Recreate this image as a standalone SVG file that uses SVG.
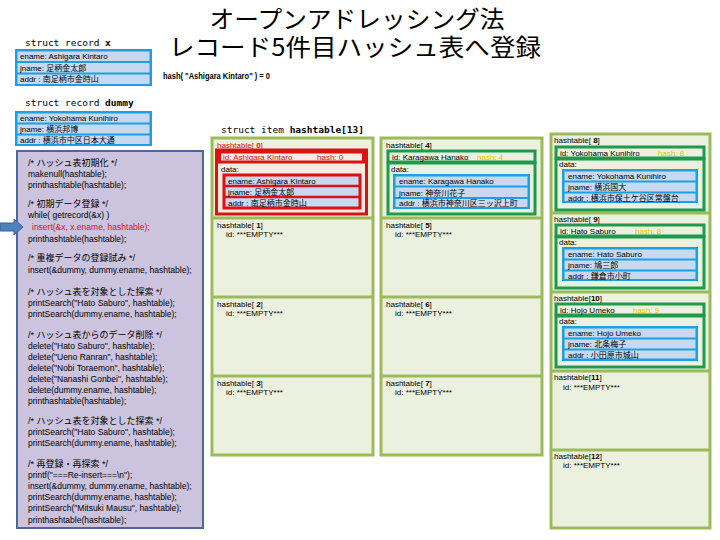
<svg xmlns="http://www.w3.org/2000/svg" width="720" height="540" viewBox="0 0 720 540">
<defs>
<style>
text{font-family:"Liberation Sans","Noto Sans CJK JP",sans-serif;fill:#000}
.title{font-family:"Noto Sans CJK JP",sans-serif;font-size:24px}
.mono{font-family:"DejaVu Sans Mono","Noto Sans CJK JP",monospace;font-size:9.5px}
.sm{font-size:8px}
.code{font-size:8.5px}
.cm{font-size:9px}
.b{font-weight:bold}
.red{fill:#dd1111}
.yel{fill:#f2bf00}
.col{fill:#ebf1de;stroke:#9bbb59;stroke-width:3}
.gbox{fill:#ebf1de;stroke:#1e9a4c;stroke-width:3}
.rbox{fill:#f4ece2;stroke:#dd1111;stroke-width:3}
.bbox{fill:#1ba1e2}
.row{fill:#c6d9f0}
</style>
</defs>
<rect width="720" height="540" fill="#ffffff"/>

<g id="title">
<text class="title" x="357" y="28" text-anchor="middle" textLength="295" lengthAdjust="spacingAndGlyphs">オープンアドレッシング法</text>
<text class="title" x="355" y="56" text-anchor="middle" textLength="372" lengthAdjust="spacingAndGlyphs">レコード5件目ハッシュ表へ登録</text>
<text class="b" x="163" y="79" font-size="9" textLength="107" lengthAdjust="spacingAndGlyphs">hash( "Ashigara Kintaro" ) = 0</text>
</g>

<g id="record-x">
<text class="mono" x="25" y="46">struct record <tspan class="b">x</tspan></text>
<rect class="bbox" x="15" y="49" width="137" height="37"/>
<rect class="row" x="17.5" y="51.5" width="132" height="9.5"/>
<rect class="row" x="17.5" y="63" width="132" height="9.5"/>
<rect class="row" x="17.5" y="74.5" width="132" height="9.5"/>
<text class="sm" x="20" y="59">ename: Ashigara Kintaro</text>
<text class="sm" x="20" y="70.5">jname: 足柄金太郎</text>
<text class="sm" x="20" y="82">addr : 南足柄市金時山</text>
</g>

<g id="record-dummy">
<text class="mono" x="25" y="106">struct record <tspan class="b">dummy</tspan></text>
<rect class="bbox" x="15" y="111" width="137" height="35"/>
<rect class="row" x="17.5" y="113.5" width="132" height="9"/>
<rect class="row" x="17.5" y="124.5" width="132" height="9"/>
<rect class="row" x="17.5" y="135.5" width="132" height="8.5"/>
<text class="sm" x="20" y="121">ename: Yokohama Kunihiro</text>
<text class="sm" x="20" y="132">jname: 横浜邦博</text>
<text class="sm" x="20" y="143">addr : 横浜市中区日本大通</text>
</g>

<g id="code">
<rect x="17" y="151" width="186" height="377" fill="#ccc3df" stroke="#4e6896" stroke-width="2"/>
<text class="cm" x="28" y="166">/* ハッシュ表初期化 */</text>
<text class="code" x="28" y="177">makenull(hashtable);</text>
<text class="code" x="28" y="188">printhashtable(hashtable);</text>
<text class="cm" x="28" y="207">/* 初期データ登録 */</text>
<text class="code" x="28" y="218">while( getrecord(&amp;x) )</text>
<text class="code red" x="32" y="230">insert(&amp;x, x.ename, hashtable);</text>
<text class="code" x="28" y="242">printhashtable(hashtable);</text>
<text class="cm" x="28" y="261">/* 重複データの登録試み */</text>
<text class="code" x="28" y="273">insert(&amp;dummy, dummy.ename, hashtable);</text>
<text class="cm" x="28" y="295">/* ハッシュ表を対象とした探索 */</text>
<text class="code" x="28" y="306">printSearch("Hato Saburo", hashtable);</text>
<text class="code" x="28" y="317">printSearch(dummy.ename, hashtable);</text>
<text class="cm" x="28" y="338">/* ハッシュ表からのデータ削除 */</text>
<text class="code" x="28" y="349">delete("Hato Saburo", hashtable);</text>
<text class="code" x="28" y="360">delete("Ueno Ranran", hashtable);</text>
<text class="code" x="28" y="371">delete("Nobi Toraemon", hashtable);</text>
<text class="code" x="28" y="382">delete("Nanashi Gonbei", hashtable);</text>
<text class="code" x="28" y="393">delete(dummy.ename, hashtable);</text>
<text class="code" x="28" y="404">printhashtable(hashtable);</text>
<text class="cm" x="28" y="424">/* ハッシュ表を対象とした探索 */</text>
<text class="code" x="28" y="435">printSearch("Hato Saburo", hashtable);</text>
<text class="code" x="28" y="446">printSearch(dummy.ename, hashtable);</text>
<text class="cm" x="28" y="467">/* 再登録・再探索 */</text>
<text class="code" x="28" y="478">printf("===Re-insert===\n");</text>
<text class="code" x="28" y="489">insert(&amp;dummy, dummy.ename, hashtable);</text>
<text class="code" x="28" y="500">printSearch(dummy.ename, hashtable);</text>
<text class="code" x="28" y="511">printSearch("Mitsuki Mausu", hashtable);</text>
<text class="code" x="28" y="523">printhashtable(hashtable);</text>
</g>

<g id="connectors">
<polygon points="0,223 14,223 14,219 23,227 14,235 14,231 0,231" fill="#4f81bd" stroke="#3a6398" stroke-width="1"/>
</g>

<g id="hashtable-title">
<text class="mono" x="221" y="133">struct item <tspan class="b">hashtable[13]</tspan></text>
</g>

<g id="columns">
<rect class="col" x="212" y="138" width="161" height="317"/>
<line x1="212" y1="218" x2="373" y2="218" stroke="#9bbb59" stroke-width="3"/>
<line x1="212" y1="297" x2="373" y2="297" stroke="#9bbb59" stroke-width="3"/>
<line x1="212" y1="376" x2="373" y2="376" stroke="#9bbb59" stroke-width="3"/>
<rect class="col" x="381" y="138" width="161" height="317"/>
<line x1="381" y1="218" x2="542" y2="218" stroke="#9bbb59" stroke-width="3"/>
<line x1="381" y1="297" x2="542" y2="297" stroke="#9bbb59" stroke-width="3"/>
<line x1="381" y1="376" x2="542" y2="376" stroke="#9bbb59" stroke-width="3"/>
<rect class="col" x="551" y="134" width="159" height="394"/>
<line x1="551" y1="213" x2="710" y2="213" stroke="#9bbb59" stroke-width="3"/>
<line x1="551" y1="292" x2="710" y2="292" stroke="#9bbb59" stroke-width="3"/>
<line x1="551" y1="371" x2="710" y2="371" stroke="#9bbb59" stroke-width="3"/>
<line x1="551" y1="450" x2="710" y2="450" stroke="#9bbb59" stroke-width="3"/>
</g>

<g id="slot-0" transform="translate(212,138)">
<text class="sm red" x="5" y="10">hashtable[ <tspan class="b">0</tspan>]</text>
<rect class="rbox" x="4.5" y="12" width="150" height="64"/>
<rect class="rbox" x="7.5" y="14" width="144" height="10" stroke-width="2"/>
<text class="sm red" x="11" y="22">id: Ashigara Kintaro</text>
<text class="sm red" x="105" y="22">hash: 0</text>
<text class="sm" x="9" y="34">data:</text>
<rect class="row" x="12" y="37" width="136" height="33" stroke="#dd1111" stroke-width="3"/>
<line x1="12" y1="48" x2="148" y2="48" stroke="#dd1111" stroke-width="2.5"/>
<line x1="12" y1="59" x2="148" y2="59" stroke="#dd1111" stroke-width="2.5"/>
<text class="sm" x="16" y="45.5">ename: Ashigara Kintaro</text>
<text class="sm" x="16" y="56.5">jname: 足柄金太郎</text>
<text class="sm" x="16" y="67.5">addr : 南足柄市金時山</text>
</g>

<g id="slot-1" transform="translate(212,218)">
<text class="sm" x="5" y="10">hashtable[ <tspan class="b">1</tspan>]</text>
<text class="sm" x="14" y="19">id: ***EMPTY***</text>
</g>
<g id="slot-2" transform="translate(212,297)">
<text class="sm" x="5" y="10">hashtable[ <tspan class="b">2</tspan>]</text>
<text class="sm" x="14" y="19">id: ***EMPTY***</text>
</g>
<g id="slot-3" transform="translate(212,376)">
<text class="sm" x="5" y="10">hashtable[ <tspan class="b">3</tspan>]</text>
<text class="sm" x="14" y="19">id: ***EMPTY***</text>
</g>

<g id="slot-4" transform="translate(381,138)">
<text class="sm" x="5" y="10">hashtable[ <tspan class="b">4</tspan>]</text>
<rect class="gbox" x="7" y="13" width="147" height="11"/>
<rect class="gbox" x="7" y="25" width="147" height="51"/>
<text class="sm" x="11" y="21.5">id: Karagawa Hanako</text>
<text class="sm yel" x="96" y="21.5">hash: 4</text>
<text class="sm" x="10" y="33.5">data:</text>
<rect class="bbox" x="12" y="36" width="137" height="35"/>
<rect class="row" x="14.5" y="38.5" width="132" height="9"/>
<rect class="row" x="14.5" y="49.5" width="132" height="9.5"/>
<rect class="row" x="14.5" y="61" width="132" height="8"/>
<text class="sm" x="18" y="46">ename: Karagawa Hanako</text>
<text class="sm" x="18" y="57.5">jname: 神奈川花子</text>
<text class="sm" x="18" y="68">addr : 横浜市神奈川区三ッ沢上町</text>
</g>

<g id="slot-5" transform="translate(381,218)">
<text class="sm" x="5" y="10">hashtable[ <tspan class="b">5</tspan>]</text>
<text class="sm" x="14" y="19">id: ***EMPTY***</text>
</g>
<g id="slot-6" transform="translate(381,297)">
<text class="sm" x="5" y="10">hashtable[ <tspan class="b">6</tspan>]</text>
<text class="sm" x="14" y="19">id: ***EMPTY***</text>
</g>
<g id="slot-7" transform="translate(381,376)">
<text class="sm" x="5" y="10">hashtable[ <tspan class="b">7</tspan>]</text>
<text class="sm" x="14" y="19">id: ***EMPTY***</text>
</g>

<g id="slot-8" transform="translate(551,134)">
<text class="sm" x="3" y="9">hashtable[ <tspan class="b">8</tspan>]</text>
<rect class="gbox" x="5" y="13" width="148" height="11"/>
<rect class="gbox" x="5" y="25" width="148" height="51"/>
<text class="sm" x="9" y="21.5">id: Yokohama Kunihiro</text>
<text class="sm yel" x="107" y="21.5">hash: 8</text>
<text class="sm" x="8" y="33">data:</text>
<rect class="bbox" x="11" y="35" width="136" height="34"/>
<rect class="row" x="13.5" y="37.5" width="131" height="9"/>
<rect class="row" x="13.5" y="48.5" width="131" height="9"/>
<rect class="row" x="13.5" y="59.5" width="131" height="7.5"/>
<text class="sm" x="17" y="45">ename: Yokohama Kunihiro</text>
<text class="sm" x="17" y="56">jname: 横浜国大</text>
<text class="sm" x="17" y="66.5">addr : 横浜市保土ケ谷区常盤台</text>
</g>

<g id="slot-9" transform="translate(551,213)">
<text class="sm" x="3" y="9">hashtable[ <tspan class="b">9</tspan>]</text>
<rect class="gbox" x="5" y="12" width="148" height="11"/>
<rect class="gbox" x="5" y="24" width="148" height="51"/>
<text class="sm" x="9" y="20.5">id: Hato Saburo</text>
<text class="sm yel" x="84" y="20.5">hash: 8</text>
<text class="sm" x="8" y="32">data:</text>
<rect class="bbox" x="11" y="34" width="136" height="34"/>
<rect class="row" x="13.5" y="36.5" width="131" height="9"/>
<rect class="row" x="13.5" y="47.5" width="131" height="9"/>
<rect class="row" x="13.5" y="58.5" width="131" height="7.5"/>
<text class="sm" x="17" y="44">ename: Hato Saburo</text>
<text class="sm" x="17" y="55">jname: 鳩三郎</text>
<text class="sm" x="17" y="65.5">addr : 鎌倉市小町</text>
</g>

<g id="slot-10" transform="translate(551,292)">
<text class="sm" x="3" y="9">hashtable[<tspan class="b">10</tspan>]</text>
<rect class="gbox" x="5" y="12" width="148" height="11"/>
<rect class="gbox" x="5" y="24" width="148" height="51"/>
<text class="sm" x="9" y="20.5">id: Hojo Umeko</text>
<text class="sm yel" x="82" y="20.5">hash: 9</text>
<text class="sm" x="8" y="32">data:</text>
<rect class="bbox" x="11" y="34" width="136" height="35"/>
<rect class="row" x="13.5" y="36.5" width="131" height="9"/>
<rect class="row" x="13.5" y="47.5" width="131" height="9"/>
<rect class="row" x="13.5" y="58.5" width="131" height="8"/>
<text class="sm" x="17" y="44">ename: Hojo Umeko</text>
<text class="sm" x="17" y="55">jname: 北条梅子</text>
<text class="sm" x="17" y="66">addr : 小田原市城山</text>
</g>

<g id="slot-11" transform="translate(551,371)">
<text class="sm" x="3" y="9">hashtable[<tspan class="b">11</tspan>]</text>
<text class="sm" x="12" y="19">id: ***EMPTY***</text>
</g>
<g id="slot-12" transform="translate(551,450)">
<text class="sm" x="3" y="9">hashtable[<tspan class="b">12</tspan>]</text>
<text class="sm" x="12" y="18">id: ***EMPTY***</text>
</g>
</svg>
